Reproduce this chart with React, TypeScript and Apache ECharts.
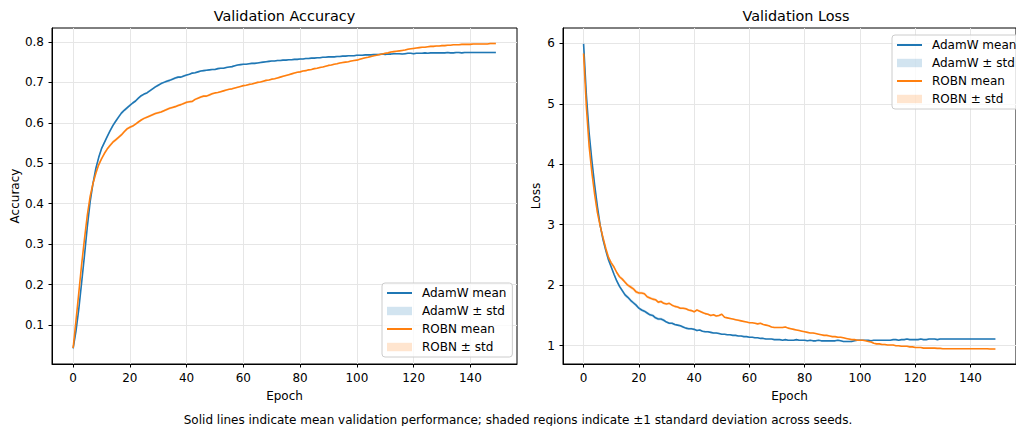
import React, { useEffect, useRef } from "react";
import * as echarts from "echarts";

const FONT = "DejaVu Sans";
const BLUE = "#1f77b4";
const ORANGE = "#ff7f0e";
const BLUE_BAND = "rgba(31,119,180,0.2)";
const ORANGE_BAND = "rgba(255,127,14,0.2)";

const xTicks = [0, 20, 40, 60, 80, 100, 120, 140];
const accTicks = [0.1, 0.2, 0.3, 0.4, 0.5, 0.6, 0.7, 0.8];
const lossTicks = [1, 2, 3, 4, 5, 6];

// Validation accuracy, mean per epoch (0..149)
const adamwAcc = [
  0.042, 0.085, 0.140, 0.205, 0.272, 0.343, 0.405, 0.450, 0.487, 0.514,
  0.536, 0.551, 0.566, 0.580, 0.593, 0.604, 0.614, 0.624, 0.631, 0.637,
  0.643, 0.649, 0.654, 0.661, 0.667, 0.671, 0.674, 0.679, 0.684, 0.689,
  0.693, 0.697, 0.700, 0.703, 0.705, 0.708, 0.711, 0.713, 0.713, 0.716,
  0.718, 0.720, 0.723, 0.724, 0.726, 0.728, 0.729, 0.730, 0.731, 0.732,
  0.732, 0.734, 0.735, 0.735, 0.737, 0.738, 0.739, 0.741, 0.743, 0.744,
  0.745, 0.745, 0.746, 0.747, 0.747, 0.748, 0.749, 0.750, 0.751, 0.752,
  0.753, 0.753, 0.754, 0.754, 0.755, 0.755, 0.756, 0.756, 0.757, 0.757,
  0.758, 0.758, 0.759, 0.759, 0.760, 0.760, 0.761, 0.761, 0.762, 0.762,
  0.763, 0.763, 0.763, 0.764, 0.764, 0.765, 0.765, 0.766, 0.766, 0.766,
  0.767, 0.767, 0.767, 0.768, 0.768, 0.768, 0.769, 0.769, 0.769, 0.770,
  0.769, 0.770, 0.770, 0.771, 0.771, 0.771, 0.770, 0.771, 0.772, 0.772,
  0.771, 0.772, 0.772, 0.772, 0.773, 0.772, 0.773, 0.773, 0.773, 0.773,
  0.773, 0.773, 0.774, 0.773, 0.773, 0.774, 0.774, 0.773, 0.774, 0.774,
  0.774, 0.774, 0.774, 0.774, 0.774, 0.774, 0.774, 0.774, 0.774, 0.774,
];
const robnAcc = [
  0.043, 0.110, 0.180, 0.250, 0.313, 0.372, 0.418, 0.450, 0.475, 0.496,
  0.511, 0.524, 0.535, 0.544, 0.552, 0.558, 0.564, 0.570, 0.578, 0.585,
  0.589, 0.592, 0.597, 0.602, 0.607, 0.611, 0.614, 0.617, 0.620, 0.623,
  0.625, 0.627, 0.630, 0.633, 0.636, 0.638, 0.640, 0.643, 0.645, 0.648,
  0.651, 0.652, 0.653, 0.658, 0.661, 0.664, 0.666, 0.666, 0.669, 0.672,
  0.674, 0.675, 0.677, 0.679, 0.681, 0.683, 0.684, 0.686, 0.688, 0.690,
  0.692, 0.693, 0.695, 0.696, 0.698, 0.700, 0.701, 0.703, 0.705, 0.706,
  0.708, 0.709, 0.711, 0.713, 0.715, 0.717, 0.719, 0.721, 0.723, 0.725,
  0.726, 0.728, 0.729, 0.731, 0.732, 0.734, 0.735, 0.737, 0.738, 0.740,
  0.742, 0.743, 0.745, 0.746, 0.748, 0.749, 0.750, 0.751, 0.753, 0.754,
  0.755, 0.757, 0.759, 0.761, 0.762, 0.764, 0.766, 0.767, 0.769, 0.770,
  0.772, 0.773, 0.775, 0.776, 0.777, 0.778, 0.779, 0.780, 0.782, 0.783,
  0.784, 0.785, 0.786, 0.787, 0.787, 0.788, 0.789, 0.789, 0.790, 0.790,
  0.791, 0.791, 0.792, 0.792, 0.793, 0.793, 0.793, 0.794, 0.794, 0.794,
  0.794, 0.795, 0.795, 0.795, 0.795, 0.795, 0.795, 0.796, 0.796, 0.796,
];

// Validation loss, mean per epoch (0..149)
const adamwLoss = [
  5.99, 5.15, 4.52, 4.06, 3.66, 3.30, 2.99, 2.76, 2.58, 2.42,
  2.30, 2.18, 2.07, 1.98, 1.91, 1.84, 1.80, 1.75, 1.71, 1.67,
  1.62, 1.59, 1.57, 1.54, 1.51, 1.50, 1.46, 1.44, 1.44, 1.42,
  1.39, 1.37, 1.37, 1.35, 1.34, 1.33, 1.31, 1.29, 1.28, 1.28,
  1.27, 1.25, 1.26, 1.24, 1.23, 1.23, 1.22, 1.21, 1.21, 1.20,
  1.19, 1.19, 1.18, 1.18, 1.17, 1.17, 1.16, 1.16, 1.15, 1.15,
  1.14, 1.14, 1.13, 1.13, 1.12, 1.12, 1.11, 1.11, 1.11, 1.10,
  1.10, 1.10, 1.09, 1.10, 1.09, 1.09, 1.09, 1.10, 1.09, 1.09,
  1.09, 1.08, 1.09, 1.08, 1.08, 1.09, 1.08, 1.08, 1.08, 1.08,
  1.08, 1.08, 1.09, 1.08, 1.07, 1.07, 1.07, 1.07, 1.08, 1.09,
  1.09, 1.09, 1.09, 1.09, 1.08, 1.09, 1.09, 1.09, 1.09, 1.09,
  1.09, 1.09, 1.10, 1.10, 1.09, 1.10, 1.10, 1.11, 1.10, 1.10,
  1.10, 1.10, 1.11, 1.10, 1.10, 1.11, 1.11, 1.11, 1.10, 1.11,
  1.11, 1.11, 1.11, 1.11, 1.11, 1.11, 1.11, 1.11, 1.11, 1.11,
  1.11, 1.11, 1.11, 1.11, 1.11, 1.11, 1.11, 1.11, 1.11, 1.11,
];
const robnLoss = [
  5.83, 4.95, 4.30, 3.86, 3.50, 3.20, 2.98, 2.79, 2.61, 2.46,
  2.37, 2.30, 2.21, 2.14, 2.10, 2.05, 2.00, 1.97, 1.94, 1.89,
  1.87, 1.87, 1.86, 1.81, 1.79, 1.77, 1.76, 1.72, 1.73, 1.70,
  1.69, 1.70, 1.67, 1.65, 1.64, 1.62, 1.62, 1.61, 1.59, 1.58,
  1.56, 1.59, 1.57, 1.55, 1.53, 1.52, 1.50, 1.51, 1.49, 1.50,
  1.52, 1.47, 1.46, 1.45, 1.44, 1.43, 1.42, 1.41, 1.40, 1.39,
  1.38, 1.38, 1.37, 1.36, 1.37, 1.35, 1.34, 1.33, 1.31, 1.30,
  1.30, 1.30, 1.30, 1.31, 1.29, 1.28, 1.27, 1.26, 1.25, 1.24,
  1.23, 1.22, 1.21, 1.21, 1.20, 1.19, 1.18, 1.17, 1.17, 1.16,
  1.15, 1.15, 1.14, 1.14, 1.13, 1.12, 1.11, 1.10, 1.10, 1.09,
  1.09, 1.09, 1.08, 1.07, 1.06, 1.04, 1.03, 1.03, 1.02, 1.02,
  1.01, 1.01, 1.01, 1.00, 1.00, 0.99, 0.99, 0.99, 0.98, 0.98,
  0.97, 0.97, 0.97, 0.96, 0.96, 0.96, 0.96, 0.96, 0.955, 0.955,
  0.95, 0.95, 0.95, 0.95, 0.95, 0.95, 0.95, 0.95, 0.95, 0.95,
  0.95, 0.95, 0.95, 0.95, 0.95, 0.95, 0.95, 0.945, 0.945, 0.945,
];

// Standard deviation across seeds, one value per block of 10 epochs
const adamwAccStd = [0.006, 0.004, 0.003, 0.003, 0.002, 0.002, 0.002, 0.002, 0.002, 0.002, 0.002, 0.002, 0.002, 0.002, 0.002];
const robnAccStd = [0.006, 0.004, 0.003, 0.003, 0.003, 0.002, 0.002, 0.002, 0.002, 0.002, 0.002, 0.002, 0.002, 0.002, 0.002];
const adamwLossStd = [0.05, 0.03, 0.025, 0.02, 0.015, 0.012, 0.01, 0.01, 0.01, 0.012, 0.01, 0.01, 0.01, 0.01, 0.01];
const robnLossStd = [0.05, 0.03, 0.025, 0.02, 0.018, 0.015, 0.012, 0.012, 0.01, 0.01, 0.01, 0.008, 0.008, 0.008, 0.008];

const textBase = { fontFamily: FONT, fontSize: 12, color: "#000" };

function bandSeries(name: string, mean: number[], std: number[], color: string, idx: number) {
  const rows = mean.map((m, i) => [i, m - std[Math.floor(i / 10)], m + std[Math.floor(i / 10)]]);
  return {
    type: "custom", name, xAxisIndex: idx, yAxisIndex: idx,
    data: rows, encode: { x: 0, y: [1, 2] }, silent: true, z: 1,
    itemStyle: { color },
    renderItem: (params: any, api: any) => {
      if (params.dataIndex !== 0) return null;
      const upper = rows.map((r) => api.coord([r[0], r[2]]));
      const lower = rows.slice().reverse().map((r) => api.coord([r[0], r[1]]));
      return {
        type: "polygon",
        shape: { points: upper.concat(lower) },
        style: { fill: color, stroke: "none" },
      };
    },
  };
}

function meanSeries(name: string, mean: number[], color: string, idx: number) {
  return {
    type: "line", name, xAxisIndex: idx, yAxisIndex: idx,
    data: mean.map((m, i) => [i, m]),
    symbol: "none", showSymbol: false, z: 3,
    lineStyle: { color, width: 1.6 },
    itemStyle: { color },
  };
}

function xAxis(idx: number) {
  return {
    type: "value", gridIndex: idx, min: -7.45, max: 156.45,
    name: "Epoch", nameLocation: "middle", nameGap: 26,
    nameTextStyle: { ...textBase },
    axisLine: { show: true, onZero: false, lineStyle: { color: "#000", width: 1 } },
    axisTick: { show: true, length: 3.5, lineStyle: { color: "#000", width: 1 }, customValues: xTicks },
    axisLabel: { ...textBase, margin: 8, customValues: xTicks },
    splitLine: { show: true, lineStyle: { color: "#e6e6e6", width: 1 } },
  };
}

function yAxis(idx: number, name: string, min: number, max: number, ticks: number[], gap: number) {
  return {
    type: "value", gridIndex: idx, min, max,
    name, nameLocation: "middle", nameGap: gap,
    nameTextStyle: { ...textBase },
    axisLine: { show: true, onZero: false, lineStyle: { color: "#000", width: 1 } },
    axisTick: { show: true, length: 3.5, lineStyle: { color: "#000", width: 1 }, customValues: ticks },
    axisLabel: { ...textBase, margin: 8, customValues: ticks, formatter: (v: number) => String(v) },
    splitLine: { show: true, lineStyle: { color: "#e6e6e6", width: 1 } },
  };
}

const legendData = [
  { name: "AdamW mean", itemStyle: { opacity: 0 } },
  { name: "AdamW ± std", icon: "rect", itemStyle: { color: BLUE_BAND } },
  { name: "ROBN mean", itemStyle: { opacity: 0 } },
  { name: "ROBN ± std", icon: "rect", itemStyle: { color: ORANGE_BAND } },
];

function legend(left: number, top: number) {
  return {
    orient: "vertical", left, top,
    itemWidth: 25, itemHeight: 8.4, itemGap: 0,
    selectedMode: false,
    backgroundColor: "rgba(255,255,255,0.8)",
    borderColor: "#cccccc", borderWidth: 1, borderRadius: 3,
    padding: [1, 6, 1, 4],
    textStyle: { ...textBase, lineHeight: 18, padding: [0, 0, 0, 5] },
    data: legendData,
  };
}

export default function App() {
  const ref = useRef<HTMLDivElement>(null);
  useEffect(() => {
    if (!ref.current) return;
    const chart = echarts.init(ref.current, undefined, { renderer: "svg" });
    chart.setOption({
      animation: false,
      backgroundColor: "#ffffff",
      grid: [
        { left: 52, top: 28, width: 465, height: 336, show: true, borderColor: "#000", borderWidth: 1, backgroundColor: "transparent" },
        { left: 563, top: 28, width: 466, height: 336, show: true, borderColor: "#000", borderWidth: 1, backgroundColor: "transparent" },
      ],
      xAxis: [xAxis(0), xAxis(1)],
      yAxis: [
        yAxis(0, "Accuracy", 0.0035, 0.8345, accTicks, 31),
        yAxis(1, "Loss", 0.697, 6.253, lossTicks, 21),
      ],
      legend: [legend(382, 283), legend(892, 35)],
      graphic: [
        { type: "text", x: 284.5, y: 16, style: { text: "Validation Accuracy", fontFamily: FONT, fontSize: 14.4, fill: "#000", align: "center", verticalAlign: "middle" } },
        { type: "text", x: 796, y: 16, style: { text: "Validation Loss", fontFamily: FONT, fontSize: 14.4, fill: "#000", align: "center", verticalAlign: "middle" } },
        { type: "text", x: 518, y: 420, style: { text: "Solid lines indicate mean validation performance; shaded regions indicate ±1 standard deviation across seeds.", fontFamily: FONT, fontSize: 12, fill: "#000", align: "center", verticalAlign: "middle" } },
      ],
      series: [
        bandSeries("AdamW ± std", adamwAcc, adamwAccStd, BLUE_BAND, 0),
        bandSeries("ROBN ± std", robnAcc, robnAccStd, ORANGE_BAND, 0),
        meanSeries("AdamW mean", adamwAcc, BLUE, 0),
        meanSeries("ROBN mean", robnAcc, ORANGE, 0),
        bandSeries("AdamW ± std", adamwLoss, adamwLossStd, BLUE_BAND, 1),
        bandSeries("ROBN ± std", robnLoss, robnLossStd, ORANGE_BAND, 1),
        meanSeries("AdamW mean", adamwLoss, BLUE, 1),
        meanSeries("ROBN mean", robnLoss, ORANGE, 1),
      ],
    });
    return () => chart.dispose();
  }, []);
  return (
    <div
      ref={ref}
      style={{ position: "fixed", left: 0, top: 0, width: 1016, height: 426, background: "#fff" }}
    />
  );
}
